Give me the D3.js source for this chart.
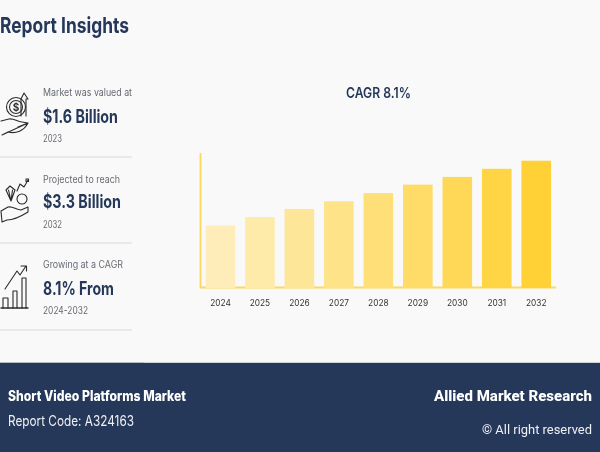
<!DOCTYPE html>
<html><head><meta charset="utf-8">
<script src="https://cdn.jsdelivr.net/npm/d3@7"></script>
<style>html,body{margin:0;padding:0;background:#f9f9f9}svg{display:block;filter:blur(0.4px)}text{font-family:Inter,"Open Sans",sans-serif}</style>
</head><body><svg id="c" width="600" height="452"></svg>
<script>
const years = ["2024","2025","2026","2027","2028","2029","2030","2031","2032"];
const marketValues = [1.62,1.84,2.05,2.25,2.46,2.68,2.88,3.09,3.30];
const insightLabels = ["Market was valued at","Projected to reach","Growing at a CAGR"];
const insightValues = ["$1.6 Billion","$3.3 Billion","8.1% From"];
const insightYears = ["2023","2032","2024-2032"];

const svg = d3.select("#c");
const navy="#25385a", grey="#666a70";
svg.append("rect").attr("width",600).attr("height",452).attr("fill","#f9f9f9");

function txt(x,y,s,size,weight,fill,anchor,len){
  const t=svg.append("text").attr("x",x).attr("y",y).text(s).attr("font-size",size)
   .attr("font-weight",weight).attr("fill",fill).attr("text-anchor",anchor||"start");
  if(len) t.attr("textLength",len).attr("lengthAdjust","spacingAndGlyphs");
  return t;
}
txt(0,33,"Report Insights",22,700,navy,"start",129);

// insight blocks
const labelY=[96,183,268], valueY=[123,208,295], yearY=[142,228,314];
const lens=[89,77,80], vlens=[75,78,71], ylens=[19,19,45];
insightLabels.forEach((l,i)=>{
  txt(43,labelY[i],l,10,400,grey,"start",lens[i]);
  txt(43,valueY[i],insightValues[i],18.5,700,navy,"start",vlens[i]);
  txt(43,yearY[i],insightYears[i],10.5,400,grey,"start",ylens[i]);
});
svg.selectAll("line.sep").data([157,243,330]).join("line").attr("class","sep")
  .attr("x1",0).attr("x2",132).attr("y1",d=>d).attr("y2",d=>d)
  .attr("stroke","#e9e9e9").attr("stroke-width",2);

// icons
const ic=svg.append("g").attr("fill","none").attr("stroke","#2b2b2b").attr("stroke-width",1.1).attr("stroke-linejoin","round").attr("stroke-linecap","round");
// icon 1
ic.append("circle").attr("cx",16).attr("cy",107).attr("r",9.5);
ic.append("circle").attr("cx",16).attr("cy",107).attr("r",6.5);
ic.append("path").attr("d","M21 116 V99 L24 93 L28 99 H26 V116");
ic.append("path").attr("d","M1 121 L9 119 C14 118 17 122 22 122 L28 123 L18 127 M28 123 C24 131 16 134 8 132 L2 135 Z");
txt(16,111,"$",10,700,"#2b2b2b","middle");
// icon 2
ic.append("path").attr("d","M6 190 L10 186 L15 190 L11 201 Z M8.5 190 L11 201 L12.5 190");
ic.append("circle").attr("cx",22).attr("cy",199).attr("r",5);
ic.append("path").attr("d","M17 191 L20 184 L24 187 L28 180");
ic.append("rect").attr("x",26).attr("y",179).attr("width",2.5).attr("height",2.5);
ic.append("path").attr("d","M1 211 L8 207 C13 206 16 210 21 210 L28 207 L28 212 C20 217 14 220 7 220 L2 222 Z");
// icon 3
ic.append("path").attr("d","M1 308 L28 308").attr("stroke-width",1.4);
ic.append("path").attr("d","M3 308 V298 H8 V308 M13 308 V291 H17 V308 M22 308 V278 H26 V308");
ic.append("path").attr("d","M5 289 L17 271 L20 275 L26 266 M21 266 H26.5 V271");

// chart
const margin={left:200.5,right:556,top:153,bottom:288};
const x=d3.scaleBand().domain(years).range([201.7,555]).paddingInner(0.25).paddingOuter(0.1);
const y=d3.scaleLinear().domain([0,3.5]).range([margin.bottom,margin.top]);
const col=d3.scaleLinear().domain([0,years.length-1]).range(["#feedb9","#ffd136"]);

svg.selectAll("rect.bar").data(marketValues).join("rect").attr("class","bar")
  .attr("x",(d,i)=>x(years[i])).attr("width",x.bandwidth())
  .attr("y",d=>y(d)).attr("height",d=>y(0)-y(d)).attr("fill",(d,i)=>col(i));

const gx=svg.append("g").attr("transform",`translate(0,${margin.bottom})`).call(d3.axisBottom(x).tickSize(0).tickPadding(12));
gx.select(".domain").remove();
gx.selectAll("text").attr("font-size",8.3).attr("fill","#333").attr("font-family","Liberation Sans, Arial, sans-serif");
svg.insert("line","rect.bar").attr("x1",margin.left-0.5).attr("x2",margin.right).attr("y1",margin.bottom-0.5).attr("y2",margin.bottom-0.5).attr("stroke","#ffd75a").attr("stroke-width",1.8);
svg.append("line").attr("x1",margin.left).attr("x2",margin.left).attr("y1",margin.top).attr("y2",margin.bottom).attr("stroke","#ffd75a").attr("stroke-width",1.8);

txt(346,98,"CAGR 8.1%",14.5,600,navy,"start",65);

// footer
svg.append("rect").attr("y",363).attr("width",600).attr("height",89).attr("fill",navy);
svg.append("line").attr("x1",0).attr("x2",600).attr("y1",362.5).attr("y2",362.5).attr("stroke","#d0d2d6");
svg.append("line").attr("x1",0).attr("x2",144).attr("y1",362.5).attr("y2",362.5).attr("stroke","#b5b9c0");
txt(8,401,"Short Video Platforms Market",14,800,"#fff","start",178);
txt(8,426,"Report Code: A324163",14.5,400,"#eef0f3","start",126);
txt(434,401,"Allied Market Research",14.5,800,"#fff","start",158).style("font-family","Roboto");
txt(482,434,"© All right reserved",13,400,"#eef0f3","start",110).style("font-family","Roboto");
</script></body></html>
